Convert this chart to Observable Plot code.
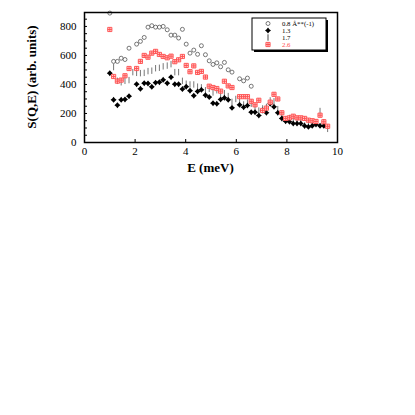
<!DOCTYPE html>
<html><head><meta charset="utf-8">
<script src="https://cdn.jsdelivr.net/npm/d3@7"></script>
<script src="https://cdn.jsdelivr.net/npm/@observablehq/plot@0.6"></script>
<style>body{margin:0;background:#fff} svg{display:block}</style>
</head><body><div id="chart"></div>
<script>
// Energy transfer values (meV)
const energy = [1.00,1.15,1.30,1.45,1.60,1.76,1.91,2.06,2.21,2.36,2.51,2.66,2.81,2.96,3.11,3.27,3.42,3.57,3.72,3.87,
  4.02,4.17,4.32,4.47,4.62,4.78,4.93,5.08,5.23,5.38,5.53,5.68,5.83,5.98,6.13,6.29,6.44,6.59,6.74,6.89,
  7.04,7.19,7.34,7.49,7.64,7.80,7.95,8.10,8.25,8.40,8.55,8.70,8.85,9.00,9.15,9.31,9.46,9.61];
// S(Q,E) for each Q
const sQ08 = [892,559,559,581,572,650,null,678,697,724,795,805,795,795,800,777,740,740,720,780,
  678,616,637,608,667,605,563,538,549,522,552,501,485,null,439,425,444,388,null,null,
  null,null,null,null,null,null,null,null,null,null,null,null,null,null,null,null,null,null];
const sQ13 = [478,294,257,294,297,319,null,402,370,409,407,384,412,416,432,409,450,402,402,368,
  385,357,323,352,363,326,313,271,267,297,308,294,239,null,260,243,255,209,209,186,
  221,205,267,246,205,166,147,143,131,131,131,115,108,115,124,115,115,null];
const sQ17 = [null,520,425,415,425,430,485,480,478,480,492,495,512,515,525,530,540,485,485,425,
  405,400,400,385,380,360,370,345,360,336,340,320,280,300,300,262,275,267,240,220,
  235,245,290,284,230,183,160,169,145,140,140,117,125,130,135,217,140,94];
const sQ26 = [779,455,423,430,460,510,null,510,559,600,588,616,628,607,593,584,595,557,570,593,
  531,488,528,483,490,451,388,379,372,354,422,390,379,null,316,316,316,284,260,291,
  221,237,278,332,300,205,166,170,181,170,170,166,154,150,145,188,143,112];

const seriesNames = ["0.8 Å**(-1)", "1.3", "1.7", "2.6"];
const xTicks = [0,2,4,6,8,10];
const yTicks = [0,200,400,600,800];
const yMinorTicks = [50,100,150,200,250,300,350,400,450,500,550,600,650,700,750,800,850];
const xInnerTicks = [2,4,6,8];

function rows(values) {
  const out = [];
  values.forEach((v, i) => { if (v != null) out.push({E: energy[i], S: v}); });
  return out;
}
const d08 = rows(sQ08), d13 = rows(sQ13), d17 = rows(sQ17), d26 = rows(sQ26);

const rad = (size) => Math.sqrt(size / Math.PI);
const barSymbol = {draw(ctx, size) { const r = rad(size); ctx.moveTo(0, -r); ctx.lineTo(0, r); }};
const gridSquare = {draw(ctx, size) {
  const r = rad(size);
  ctx.moveTo(-r, -r); ctx.lineTo(r, -r); ctx.lineTo(r, r); ctx.lineTo(-r, r); ctx.closePath();
  ctx.moveTo(-r, 0); ctx.lineTo(r, 0); ctx.moveTo(0, -r); ctx.lineTo(0, r);
}};
const star4 = {draw(ctx, size) {
  const r = rad(size), k = 0.45 * r;
  ctx.moveTo(0, -r); ctx.lineTo(k, -k); ctx.lineTo(r, 0); ctx.lineTo(k, k);
  ctx.lineTo(0, r); ctx.lineTo(-k, k); ctx.lineTo(-r, 0); ctx.lineTo(-k, -k); ctx.closePath();
}};

const W = 415, H = 415;
const mL = 84, mR = 78, mT = 12, mB = 273;
const red = "#ff4d4d";

const plot = Plot.plot({
  width: W, height: H,
  marginLeft: mL, marginRight: mR, marginTop: mT, marginBottom: mB,
  style: {fontFamily: "Liberation Serif, Times New Roman, serif", fontSize: "11px", color: "black", background: "white"},
  x: {domain: [0, 10]},
  y: {domain: [0, 896]},
  marks: [
    Plot.axisX({ticks: xTicks, tickSize: 0, tickPadding: 5, label: null, fontSize: 11}),
    Plot.axisX({ticks: xInnerTicks, tickSize: -3, text: null, label: null}),
    Plot.axisY({ticks: yTicks, tickSize: 0, tickPadding: 8, label: null, fontSize: 11}),
    Plot.axisY({ticks: yMinorTicks, tickSize: -3, text: null, label: null}),
    Plot.dot(d17, {x: "E", y: "S", symbol: barSymbol, r: 3.2, stroke: "#777", strokeWidth: 1}),
    Plot.dot(d13, {x: "E", y: "S", symbol: star4, r: 3.0, fill: "black", stroke: "none"}),
    Plot.dot(d08, {x: "E", y: "S", symbol: "circle", r: 2, stroke: "#555", strokeWidth: 0.8, fill: "none"}),
    Plot.dot(d26, {x: "E", y: "S", symbol: gridSquare, r: 2.1, stroke: red, strokeWidth: 0.9, fill: "#ffd0d0"}),
    Plot.frame({stroke: "black", strokeWidth: 1.5})
  ]
});
document.getElementById("chart").appendChild(plot);

const svg = d3.select(plot);
const font = "Liberation Serif, Times New Roman, serif";
// axis titles
svg.append("text").attr("x", (mL + W - mR) / 2).attr("y", 172)
  .attr("text-anchor", "middle").attr("font-family", font).attr("font-weight", "bold")
  .attr("font-size", 13).attr("fill", "black").text("E (meV)");
svg.append("text").attr("transform", `translate(36,${(mT + H - mB) / 2}) rotate(-90)`)
  .attr("text-anchor", "middle").attr("font-family", font).attr("font-weight", "bold")
  .attr("font-size", 13).attr("fill", "black").text("S(Q,E) (arb. units)");

// legend box with shadow
const lg = svg.append("g");
const bx = 252, by = 18, bw = 74, bh = 32;
lg.append("rect").attr("x", bx + 2).attr("y", by + 2).attr("width", bw).attr("height", bh).attr("fill", "black");
lg.append("rect").attr("x", bx).attr("y", by).attr("width", bw).attr("height", bh)
  .attr("fill", "white").attr("stroke", "black").attr("stroke-width", 1);
const rowY = [23.5, 30.5, 37.5, 44.5];
const symX = 268, txtX = 282;
lg.append("circle").attr("cx", symX).attr("cy", rowY[0]).attr("r", 2).attr("fill", "none").attr("stroke", "#555").attr("stroke-width", 0.8);
lg.append("path").attr("transform", `translate(${symX},${rowY[1]})`).attr("d", d3.symbol(star4, Math.PI * 3.0 * 3.0)()).attr("fill", "black");
lg.append("path").attr("transform", `translate(${symX},${rowY[2]})`).attr("d", d3.symbol(barSymbol, Math.PI * 3.2 * 3.2)()).attr("stroke", "#444").attr("fill", "none");
lg.append("path").attr("transform", `translate(${symX},${rowY[3]})`).attr("d", d3.symbol(gridSquare, Math.PI * 2.1 * 2.1)()).attr("stroke", red).attr("stroke-width", 0.9).attr("fill", "#ffd0d0");
seriesNames.forEach((name, i) => {
  lg.append("text").attr("x", txtX).attr("y", rowY[i]).attr("dy", "0.32em")
    .attr("text-anchor", "start")
    .attr("font-family", font).attr("font-size", 6.8)
    .attr("fill", i === 3 ? red : "black").text(name);
});
</script>
</body></html>
